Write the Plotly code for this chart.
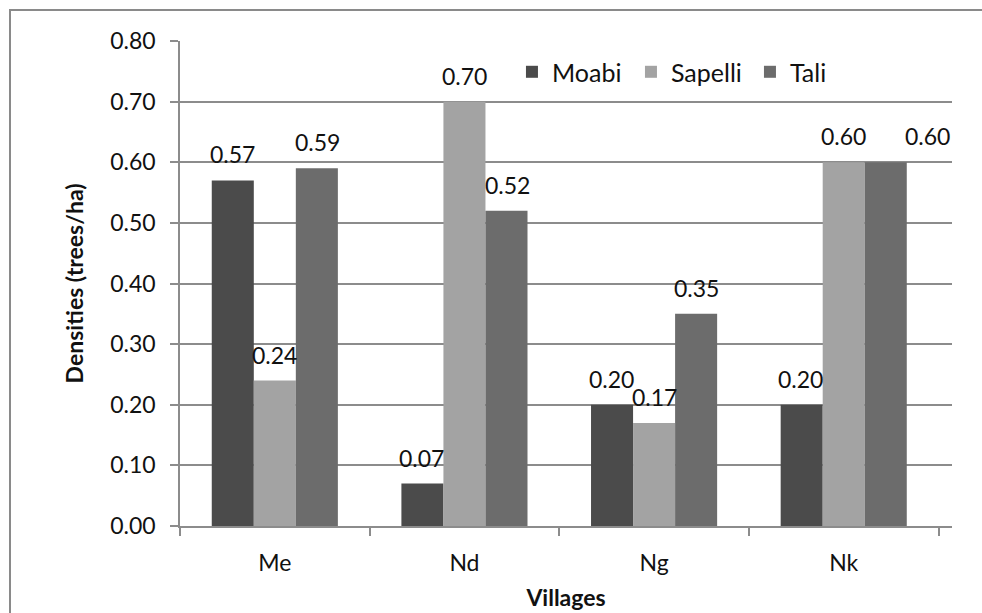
import plotly.graph_objects as go

villages = ["Me", "Nd", "Ng", "Nk"]
moabi = [0.57, 0.07, 0.20, 0.20]
sapelli = [0.24, 0.70, 0.17, 0.60]
tali = [0.59, 0.52, 0.35, 0.60]
y_ticks = [0.0, 0.1, 0.2, 0.3, 0.4, 0.5, 0.6, 0.7, 0.8]

series = [("Moabi", moabi, "#4b4b4b"), ("Sapelli", sapelli, "#a3a3a3"), ("Tali", tali, "#6c6c6c")]

FONT = "Lato, 'Open Sans', sans-serif"
FS = 23
L, R, T, B = 180, 30, 41, 87
W, H = 982, 613
BARGAP = 0.335
cat_px = (W - L - R) / len(villages)
bar_px = cat_px * (1 - BARGAP) / len(series)

fig = go.Figure()
for i, (name, vals, col) in enumerate(series):
    fig.add_trace(go.Bar(
        x=villages, y=vals, name=name, marker=dict(color=col, line=dict(width=0)),
    ))
    for j, (v, c) in enumerate(zip(villages, vals)):
        shift = (i - 1) * bar_px
        if name == "Tali" and j == 3:
            shift += 41  # label nudged right to avoid overlap, as in the original
        fig.add_annotation(x=v, y=c, text=f"{c:.2f}", showarrow=False,
                           xref="x", yref="y", yanchor="bottom", xshift=shift, yshift=10,
                           font=dict(size=FS, color="#111", family=FONT))

fig.update_layout(
    width=W, height=H,
    margin=dict(l=L, r=R, t=T, b=B, autoexpand=False),
    paper_bgcolor="white", plot_bgcolor="white",
    barmode="group", bargap=BARGAP, bargroupgap=0,
    font=dict(family=FONT, size=FS, color="#111"),
    showlegend=True,
    legend=dict(orientation="h", x=0.43, xanchor="left", y=0.936, yanchor="middle",
                font=dict(size=25, family=FONT, color="#111"), bgcolor="rgba(0,0,0,0)",
                itemwidth=30, traceorder="normal", entrywidth=74, entrywidthmode="pixels"),
    shapes=[dict(type="rect", xref="paper", yref="paper",
                 x0=(10 - L) / (W - L - R), x1=(W + 20 - L) / (W - L - R),
                 y0=-(B + 30) / (H - T - B), y1=1 + (T - 10) / (H - T - B),
                 line=dict(color="#8a8a8a", width=2), fillcolor="rgba(0,0,0,0)", layer="below")],
)

fig.update_yaxes(range=[0, 0.8], tickvals=y_ticks, ticktext=[f"{v:.2f}" for v in y_ticks],
                 showgrid=True, gridcolor="#8c8c8c", gridwidth=1.5, automargin=False,
                 showline=True, linecolor="#8c8c8c", linewidth=1.5,
                 ticks="outside", ticklen=8, tickcolor="#8c8c8c", tickwidth=1.5,
                 ticklabelstandoff=10,
                 zeroline=False, tickfont=dict(size=FS),
                 title=dict(text="<b>Densities (trees/ha)</b>", font=dict(size=FS), standoff=20))
fig.update_xaxes(showline=True, linecolor="#8c8c8c", linewidth=1.5, automargin=False,
                 ticks="outside", tickson="boundaries", ticklen=8, tickcolor="#8c8c8c", tickwidth=1.5,
                 ticklabelstandoff=16,
                 tickfont=dict(size=FS),
                 title=dict(text="<b>Villages</b>", font=dict(size=FS), standoff=15))

fig.write_html("out.html", config={"displayModeBar": False},
               post_script="document.body.style.margin='0px';")
